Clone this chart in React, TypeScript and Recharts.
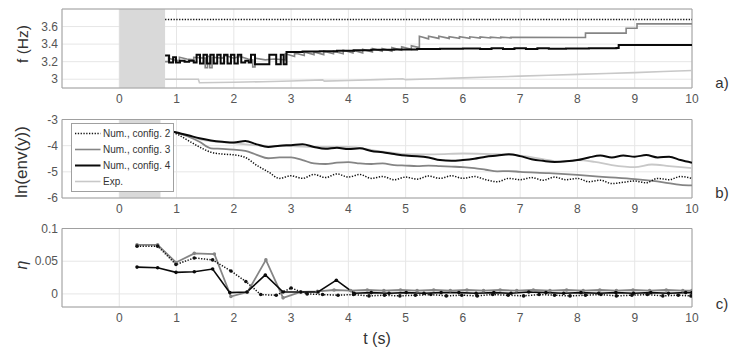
import React from 'react';
import { LineChart, Line, XAxis, YAxis, CartesianGrid, ReferenceArea } from 'recharts';

const FONT = '"Liberation Sans", Arial, Helvetica, sans-serif';

// ---------- ticks & labels ----------
const xTicks = [0, 1, 2, 3, 4, 5, 6, 7, 8, 9, 10];
const fTicks = [3, 3.2, 3.4, 3.6];
const lnTicks = [-6, -5, -4, -3];
const etaTicks = [0, 0.05, 0.1];
const legendLabels = ['Num., config. 2', 'Num., config. 3', 'Num., config. 4', 'Exp.'];
const panelTags = ['a)', 'b)', 'c)'];
const yLabels = ['f (Hz)', 'ln(env(y))', 'η'];
const xLabel = 't (s)';

// ---------- panel a: frequency [t, f] ----------
const freqConfig2 = [[0.8, 3.68], [10, 3.68]];
const freqConfig3 = [
  [0.80, 3.20], [0.86, 3.20], [0.86, 3.24], [0.96, 3.22], [1.05, 3.21], [1.05, 3.25], [1.18, 3.23], [1.30, 3.22],
  [1.30, 3.25], [1.48, 3.24], [1.50, 3.24], [1.50, 3.13], [1.54, 3.13], [1.54, 3.26], [1.58, 3.26], [1.58, 3.13],
  [1.62, 3.13], [1.62, 3.25], [1.80, 3.24], [1.85, 3.27], [2.00, 3.24], [2.10, 3.26], [2.25, 3.23], [2.33, 3.22],
  [2.33, 3.14], [2.37, 3.14], [2.37, 3.24], [2.55, 3.22], [2.70, 3.23], [2.90, 3.22],
  [2.90, 3.29], [3.06, 3.26], [3.06, 3.30], [3.23, 3.27], [3.23, 3.31], [3.40, 3.28], [3.40, 3.31], [3.57, 3.28],
  [3.57, 3.32], [3.74, 3.29], [3.74, 3.32], [3.91, 3.29], [3.91, 3.33], [4.08, 3.30], [4.08, 3.33], [4.25, 3.30],
  [4.25, 3.34], [4.42, 3.31], [4.42, 3.35], [4.59, 3.32], [4.59, 3.35], [4.76, 3.32], [4.76, 3.36], [4.93, 3.33],
  [4.93, 3.37], [5.10, 3.34], [5.10, 3.38], [5.24, 3.36], [5.24, 3.49], [5.40, 3.46], [5.40, 3.49], [5.58, 3.465],
  [5.58, 3.49], [5.76, 3.465], [5.76, 3.485], [5.94, 3.465], [5.94, 3.485], [6.12, 3.467], [6.12, 3.483],
  [6.30, 3.468], [6.30, 3.482], [6.48, 3.47], [6.48, 3.48], [6.66, 3.47], [6.66, 3.48], [6.84, 3.472],
  [6.84, 3.478], [8.14, 3.475], [8.14, 3.525], [8.85, 3.525], [8.85, 3.58], [9.04, 3.58], [9.04, 3.63], [10, 3.63],
];
const freqConfig4 = [
  [0.80, 3.27], [0.87, 3.19], [0.94, 3.25], [0.99, 3.19], [1.06, 3.21], [1.14, 3.20], [1.22, 3.21], [1.30, 3.19],
  [1.35, 3.28], [1.41, 3.18], [1.47, 3.28], [1.53, 3.18], [1.59, 3.28], [1.65, 3.18], [1.71, 3.28], [1.77, 3.18],
  [1.83, 3.28], [1.89, 3.18], [1.95, 3.28], [2.01, 3.18], [2.07, 3.28], [2.13, 3.19], [2.20, 3.21], [2.26, 3.19],
  [2.30, 3.28], [2.37, 3.17], [2.62, 3.28], [2.74, 3.17], [2.82, 3.28], [2.87, 3.17], [2.92, 3.31], [3.20, 3.315],
  [3.50, 3.32], [3.80, 3.325], [4.10, 3.33], [4.40, 3.335], [4.80, 3.34], [5.20, 3.345], [5.60, 3.348], [6.00, 3.35],
  [6.30, 3.345], [6.50, 3.352], [6.70, 3.345], [6.90, 3.352], [7.10, 3.345], [7.30, 3.352], [7.50, 3.348],
  [7.80, 3.35], [8.20, 3.352], [8.68, 3.355], [8.72, 3.39], [10, 3.39],
];
const freqExp = [
  [0.80, 3.00], [1.38, 3.00], [1.40, 2.96], [2.00, 2.965], [2.50, 2.972], [3.00, 2.98], [3.55, 2.992], [3.58, 2.978],
  [4.00, 2.985], [4.50, 2.995], [4.95, 3.005], [5.00, 2.995], [5.50, 3.005], [6.00, 3.015], [6.50, 3.025],
  [7.00, 3.035], [7.50, 3.045], [8.00, 3.055], [8.50, 3.065], [9.00, 3.075], [9.50, 3.088], [10, 3.10],
];

// ---------- panel b: ln(env(y)) [t, value] ----------
const lnConfig2 = [
  [0.8, -3.40], [1.0, -3.55], [1.2, -3.80], [1.4, -4.05], [1.6, -4.25], [1.8, -4.32], [2.0, -4.35], [2.2, -4.45],
  [2.4, -4.75], [2.6, -5.00], [2.8, -5.25], [3.0, -5.15], [3.2, -5.25], [3.4, -5.10], [3.6, -5.22], [3.8, -5.08],
  [4.0, -5.20], [4.2, -5.10], [4.4, -5.25], [4.6, -5.18], [4.8, -5.30], [5.0, -5.20], [5.2, -5.28], [5.4, -5.16],
  [5.6, -5.25], [5.8, -5.15], [6.0, -5.25], [6.2, -5.18], [6.4, -5.30], [6.6, -5.38], [6.8, -5.25], [7.0, -5.30],
  [7.2, -5.22], [7.4, -5.32], [7.6, -5.20], [7.8, -5.30], [8.0, -5.25], [8.2, -5.38], [8.4, -5.32], [8.6, -5.45],
  [8.8, -5.40], [9.0, -5.35], [9.2, -5.42], [9.4, -5.25], [9.6, -5.30], [9.8, -5.18], [10.0, -5.25],
];
const lnConfig3 = [
  [0.8, -3.40], [1.0, -3.50], [1.2, -3.65], [1.4, -3.85], [1.6, -4.10], [1.8, -4.12], [2.0, -4.15], [2.2, -4.20],
  [2.4, -4.35], [2.6, -4.48], [2.8, -4.45], [3.0, -4.45], [3.2, -4.55], [3.4, -4.68], [3.6, -4.70], [3.8, -4.65],
  [4.0, -4.63], [4.2, -4.68], [4.4, -4.70], [4.6, -4.68], [4.8, -4.74], [5.0, -4.76], [5.2, -4.78], [5.4, -4.76],
  [5.6, -4.78], [5.8, -4.80], [6.0, -4.82], [6.2, -4.86], [6.4, -4.92], [6.6, -4.98], [6.8, -4.97], [7.0, -5.00],
  [7.5, -5.05], [8.0, -5.12], [8.5, -5.20], [9.0, -5.28], [9.5, -5.40], [9.8, -5.50], [10.0, -5.52],
];
const lnConfig4 = [
  [0.8, -3.40], [1.0, -3.50], [1.2, -3.60], [1.4, -3.72], [1.6, -3.80], [1.8, -3.85], [2.0, -3.88], [2.2, -3.82],
  [2.4, -3.95], [2.6, -4.05], [2.8, -4.00], [3.0, -3.98], [3.2, -3.95], [3.4, -4.05], [3.6, -4.12], [3.8, -4.08],
  [4.0, -4.13], [4.2, -4.10], [4.4, -4.20], [4.6, -4.25], [4.8, -4.32], [5.0, -4.38], [5.2, -4.40], [5.4, -4.45],
  [5.6, -4.55], [5.8, -4.58], [6.0, -4.55], [6.2, -4.50], [6.4, -4.42], [6.6, -4.38], [6.8, -4.33], [7.0, -4.40],
  [7.2, -4.52], [7.4, -4.58], [7.6, -4.62], [7.8, -4.60], [8.0, -4.55], [8.2, -4.45], [8.4, -4.38], [8.6, -4.45],
  [8.8, -4.38], [9.0, -4.42], [9.2, -4.36], [9.4, -4.45], [9.6, -4.42], [9.8, -4.55], [10.0, -4.65],
];
const lnExp = [
  [0.8, -3.40], [1.0, -3.50], [1.5, -3.80], [2.0, -3.90], [2.5, -4.00], [3.0, -4.02], [3.5, -4.05], [4.0, -4.05],
  [4.5, -4.20], [5.0, -4.32], [5.5, -4.33], [6.0, -4.30], [6.5, -4.32], [7.0, -4.38], [7.5, -4.55], [7.7, -4.62],
  [8.0, -4.55], [8.3, -4.62], [8.6, -4.74], [9.0, -4.82], [9.3, -4.72], [9.6, -4.78], [10.0, -4.86],
];

// ---------- panel c: damping eta [t, value] ----------
const etaConfig2 = [
  [0.31, 0.073], [0.67, 0.073], [0.99, 0.045], [1.31, 0.055], [1.63, 0.052], [1.95, 0.035], [2.21, 0.019],
  [2.47, -0.001], [2.74, -0.002], [3.00, 0.009], [3.28, 0.000], [3.55, -0.001], [3.82, -0.002], [4.09, -0.001],
  [4.36, -0.003], [4.63, -0.002], [4.90, -0.003], [5.17, -0.002], [5.44, -0.001], [5.71, -0.003], [5.98, -0.002],
  [6.25, -0.003], [6.52, -0.001], [6.79, -0.002], [7.06, -0.003], [7.33, -0.001], [7.60, -0.002], [7.87, -0.003],
  [8.14, -0.002], [8.41, -0.001], [8.68, -0.003], [8.95, -0.002], [9.22, -0.001], [9.49, -0.003], [9.76, -0.002],
  [9.98, -0.003],
];
const etaConfig3 = [
  [0.31, 0.075], [0.67, 0.075], [0.99, 0.048], [1.31, 0.062], [1.66, 0.061], [1.95, -0.004], [2.24, 0.003],
  [2.56, 0.052], [2.86, -0.006], [3.17, 0.003], [3.46, 0.004], [3.75, 0.006], [4.04, 0.005], [4.33, 0.006],
  [4.62, 0.005], [4.91, 0.006], [5.20, 0.005], [5.49, 0.006], [5.78, 0.005], [6.07, 0.006], [6.36, 0.005],
  [6.65, 0.006], [6.94, 0.005], [7.23, 0.006], [7.52, 0.005], [7.81, 0.006], [8.10, 0.005], [8.39, 0.006],
  [8.68, 0.005], [8.97, 0.006], [9.26, 0.005], [9.55, 0.006], [9.84, 0.005], [10.0, 0.005],
];
const etaConfig4 = [
  [0.31, 0.041], [0.67, 0.040], [0.99, 0.033], [1.31, 0.034], [1.63, 0.038], [1.93, 0.002], [2.23, 0.003],
  [2.55, 0.029], [2.86, 0.003], [3.17, 0.003], [3.47, 0.003], [3.79, 0.021], [4.10, 0.001], [4.40, 0.002],
  [4.71, 0.001], [5.01, 0.002], [5.32, 0.001], [5.62, 0.002], [5.93, 0.002], [6.23, 0.001], [6.54, 0.002],
  [6.84, 0.001], [7.15, 0.003], [7.45, 0.002], [7.76, 0.001], [8.06, 0.002], [8.37, 0.001], [8.67, 0.002],
  [8.98, 0.001], [9.28, 0.002], [9.59, 0.001], [9.89, 0.002], [10.0, 0.002],
];

const pts = (arr: number[][]) => arr.map(([t, v]) => ({ t, v }));

const C2 = '#111111';
const C3 = '#858585';
const C4 = '#0a0a0a';
const CE = '#c8c8c8';
const BOX = '#a0a0a0';
const GRID = '#e6e6e6';
const TICK = '#555555';

const tickStyle = { fontSize: 12, fill: TICK, fontFamily: FONT };

function axes(yDomain: number[], yTicks: number[]) {
  return [
    <CartesianGrid key="g" stroke={GRID} strokeWidth={1} />,
    <XAxis
      key="x"
      dataKey="t"
      type="number"
      domain={[-1, 10]}
      ticks={xTicks}
      allowDataOverflow
      axisLine={false}
      tickLine={false}
      tickSize={0}
      tickMargin={6}
      height={20}
      tick={tickStyle}
      interval={0}
    />,
    <YAxis
      key="y"
      type="number"
      domain={yDomain}
      ticks={yTicks}
      allowDataOverflow
      axisLine={false}
      tickLine={false}
      tickSize={0}
      tickMargin={4}
      width={40}
      tick={tickStyle}
      interval={0}
    />,
  ];
}

function box(yDomain: number[]) {
  return (
    <ReferenceArea
      key="box"
      x1={-1}
      x2={10}
      y1={yDomain[0]}
      y2={yDomain[1]}
      fill="none"
      fillOpacity={0}
      stroke={BOX}
      strokeWidth={1}
      ifOverflow="visible"
    />
  );
}

function shade(x2: number, yDomain: number[]) {
  return (
    <ReferenceArea
      key="shade"
      x1={0}
      x2={x2}
      y1={yDomain[0]}
      y2={yDomain[1]}
      fill="#d9d9d9"
      fillOpacity={1}
      stroke="none"
    />
  );
}

const W = 744;
const fDomain = [2.9, 3.8];
const lnDomain = [-6, -3];
const etaDomain = [-0.02, 0.1];

export default function App() {
  const dot2 = { r: 1.8, fill: C2, stroke: C2, strokeWidth: 0 };
  const dot3 = { r: 1.8, fill: C3, stroke: C3, strokeWidth: 0 };
  const dot4 = { r: 1.8, fill: C4, stroke: C4, strokeWidth: 0 };
  const legendRows = [
    { color: C2, width: 1.5, dash: '1.3 1.5' },
    { color: C3, width: 1.6, dash: undefined },
    { color: C4, width: 2, dash: undefined },
    { color: CE, width: 1.6, dash: undefined },
  ];
  return (
    <div style={{ position: 'absolute', left: 0, top: 0, width: W, height: 350, background: '#fff', fontFamily: FONT }}>
      {/* panel a */}
      <div style={{ position: 'absolute', left: 0, top: 0 }}>
        <LineChart width={W} height={108} margin={{ top: 9, right: 52, left: 22, bottom: 0 }}>
          {shade(0.8, fDomain)}
          {axes(fDomain, fTicks)}
          <Line data={pts(freqExp)} dataKey="v" type="linear" stroke={CE} strokeWidth={1.6} dot={false} activeDot={false} isAnimationActive={false} />
          <Line data={pts(freqConfig3)} dataKey="v" type="linear" stroke={C3} strokeWidth={1.6} dot={false} activeDot={false} isAnimationActive={false} />
          <Line data={pts(freqConfig4)} dataKey="v" type="stepAfter" stroke={C4} strokeWidth={2} dot={false} activeDot={false} isAnimationActive={false} />
          <Line data={pts(freqConfig2)} dataKey="v" type="linear" stroke={C2} strokeWidth={1.5} strokeDasharray="1.3 1.5" dot={false} activeDot={false} isAnimationActive={false} />
          {box(fDomain)}
        </LineChart>
      </div>
      {/* panel b */}
      <div style={{ position: 'absolute', left: 0, top: 108 }}>
        <LineChart width={W} height={110} margin={{ top: 11.5, right: 52, left: 22, bottom: 0 }}>
          {shade(0.72, lnDomain)}
          {axes(lnDomain, lnTicks)}
          <Line data={pts(lnExp)} dataKey="v" type="monotone" stroke={CE} strokeWidth={1.8} dot={false} activeDot={false} isAnimationActive={false} />
          <Line data={pts(lnConfig3)} dataKey="v" type="monotone" stroke={C3} strokeWidth={1.8} dot={false} activeDot={false} isAnimationActive={false} />
          <Line data={pts(lnConfig4)} dataKey="v" type="monotone" stroke={C4} strokeWidth={2} dot={false} activeDot={false} isAnimationActive={false} />
          <Line data={pts(lnConfig2)} dataKey="v" type="monotone" stroke={C2} strokeWidth={1.5} strokeDasharray="1.3 1.5" dot={false} activeDot={false} isAnimationActive={false} />
          {box(lnDomain)}
        </LineChart>
      </div>
      {/* panel c */}
      <div style={{ position: 'absolute', left: 0, top: 218 }}>
        <LineChart width={W} height={109} margin={{ top: 10.5, right: 52, left: 22, bottom: 0 }}>
          {axes(etaDomain, etaTicks)}
          <Line data={pts(etaConfig3)} dataKey="v" type="linear" stroke={C3} strokeWidth={1.8} dot={dot3} activeDot={false} isAnimationActive={false} />
          <Line data={pts(etaConfig4)} dataKey="v" type="linear" stroke={C4} strokeWidth={1.6} dot={dot4} activeDot={false} isAnimationActive={false} />
          <Line data={pts(etaConfig2)} dataKey="v" type="linear" stroke={C2} strokeWidth={1.5} strokeDasharray="1.3 1.5" dot={dot2} activeDot={false} isAnimationActive={false} />
          {box(etaDomain)}
        </LineChart>
      </div>
      {/* overlay: labels and legend */}
      <svg width={W} height={350} style={{ position: 'absolute', left: 0, top: 0, pointerEvents: 'none' }}>
        <g fontFamily={FONT} fill="#333">
          <text x={0} y={0} fontSize={15.5} textAnchor="middle" dominantBaseline="central" transform="translate(22,44) rotate(-90)">{yLabels[0]}</text>
          <text x={0} y={0} fontSize={17} textAnchor="middle" dominantBaseline="central" transform="translate(21.5,162) rotate(-90)">{yLabels[1]}</text>
          <text x={0} y={0} fontSize={16} fontStyle="italic" textAnchor="middle" dominantBaseline="central" transform="translate(21,265) rotate(-90)">{yLabels[2]}</text>
          <text x={377} y={338} fontSize={16} textAnchor="middle" dominantBaseline="central">{xLabel}</text>
          <text x={722} y={82} fontSize={15} textAnchor="middle" dominantBaseline="central">{panelTags[0]}</text>
          <text x={722} y={192} fontSize={15} textAnchor="middle" dominantBaseline="central">{panelTags[1]}</text>
          <text x={722} y={303} fontSize={15} textAnchor="middle" dominantBaseline="central">{panelTags[2]}</text>
        </g>
        <rect x={71.5} y={123.5} width={102} height={68} fill="#fff" stroke={BOX} strokeWidth={1} />
        {legendRows.map((r, i) => (
          <g key={i}>
            <line x1={75} y1={133.5 + i * 16} x2={100.5} y2={133.5 + i * 16} stroke={r.color} strokeWidth={r.width} strokeDasharray={r.dash} />
            <text x={103} y={133.5 + i * 16} fontSize={10} fill="#333" fontFamily={FONT} dominantBaseline="central">{legendLabels[i]}</text>
          </g>
        ))}
      </svg>
    </div>
  );
}
